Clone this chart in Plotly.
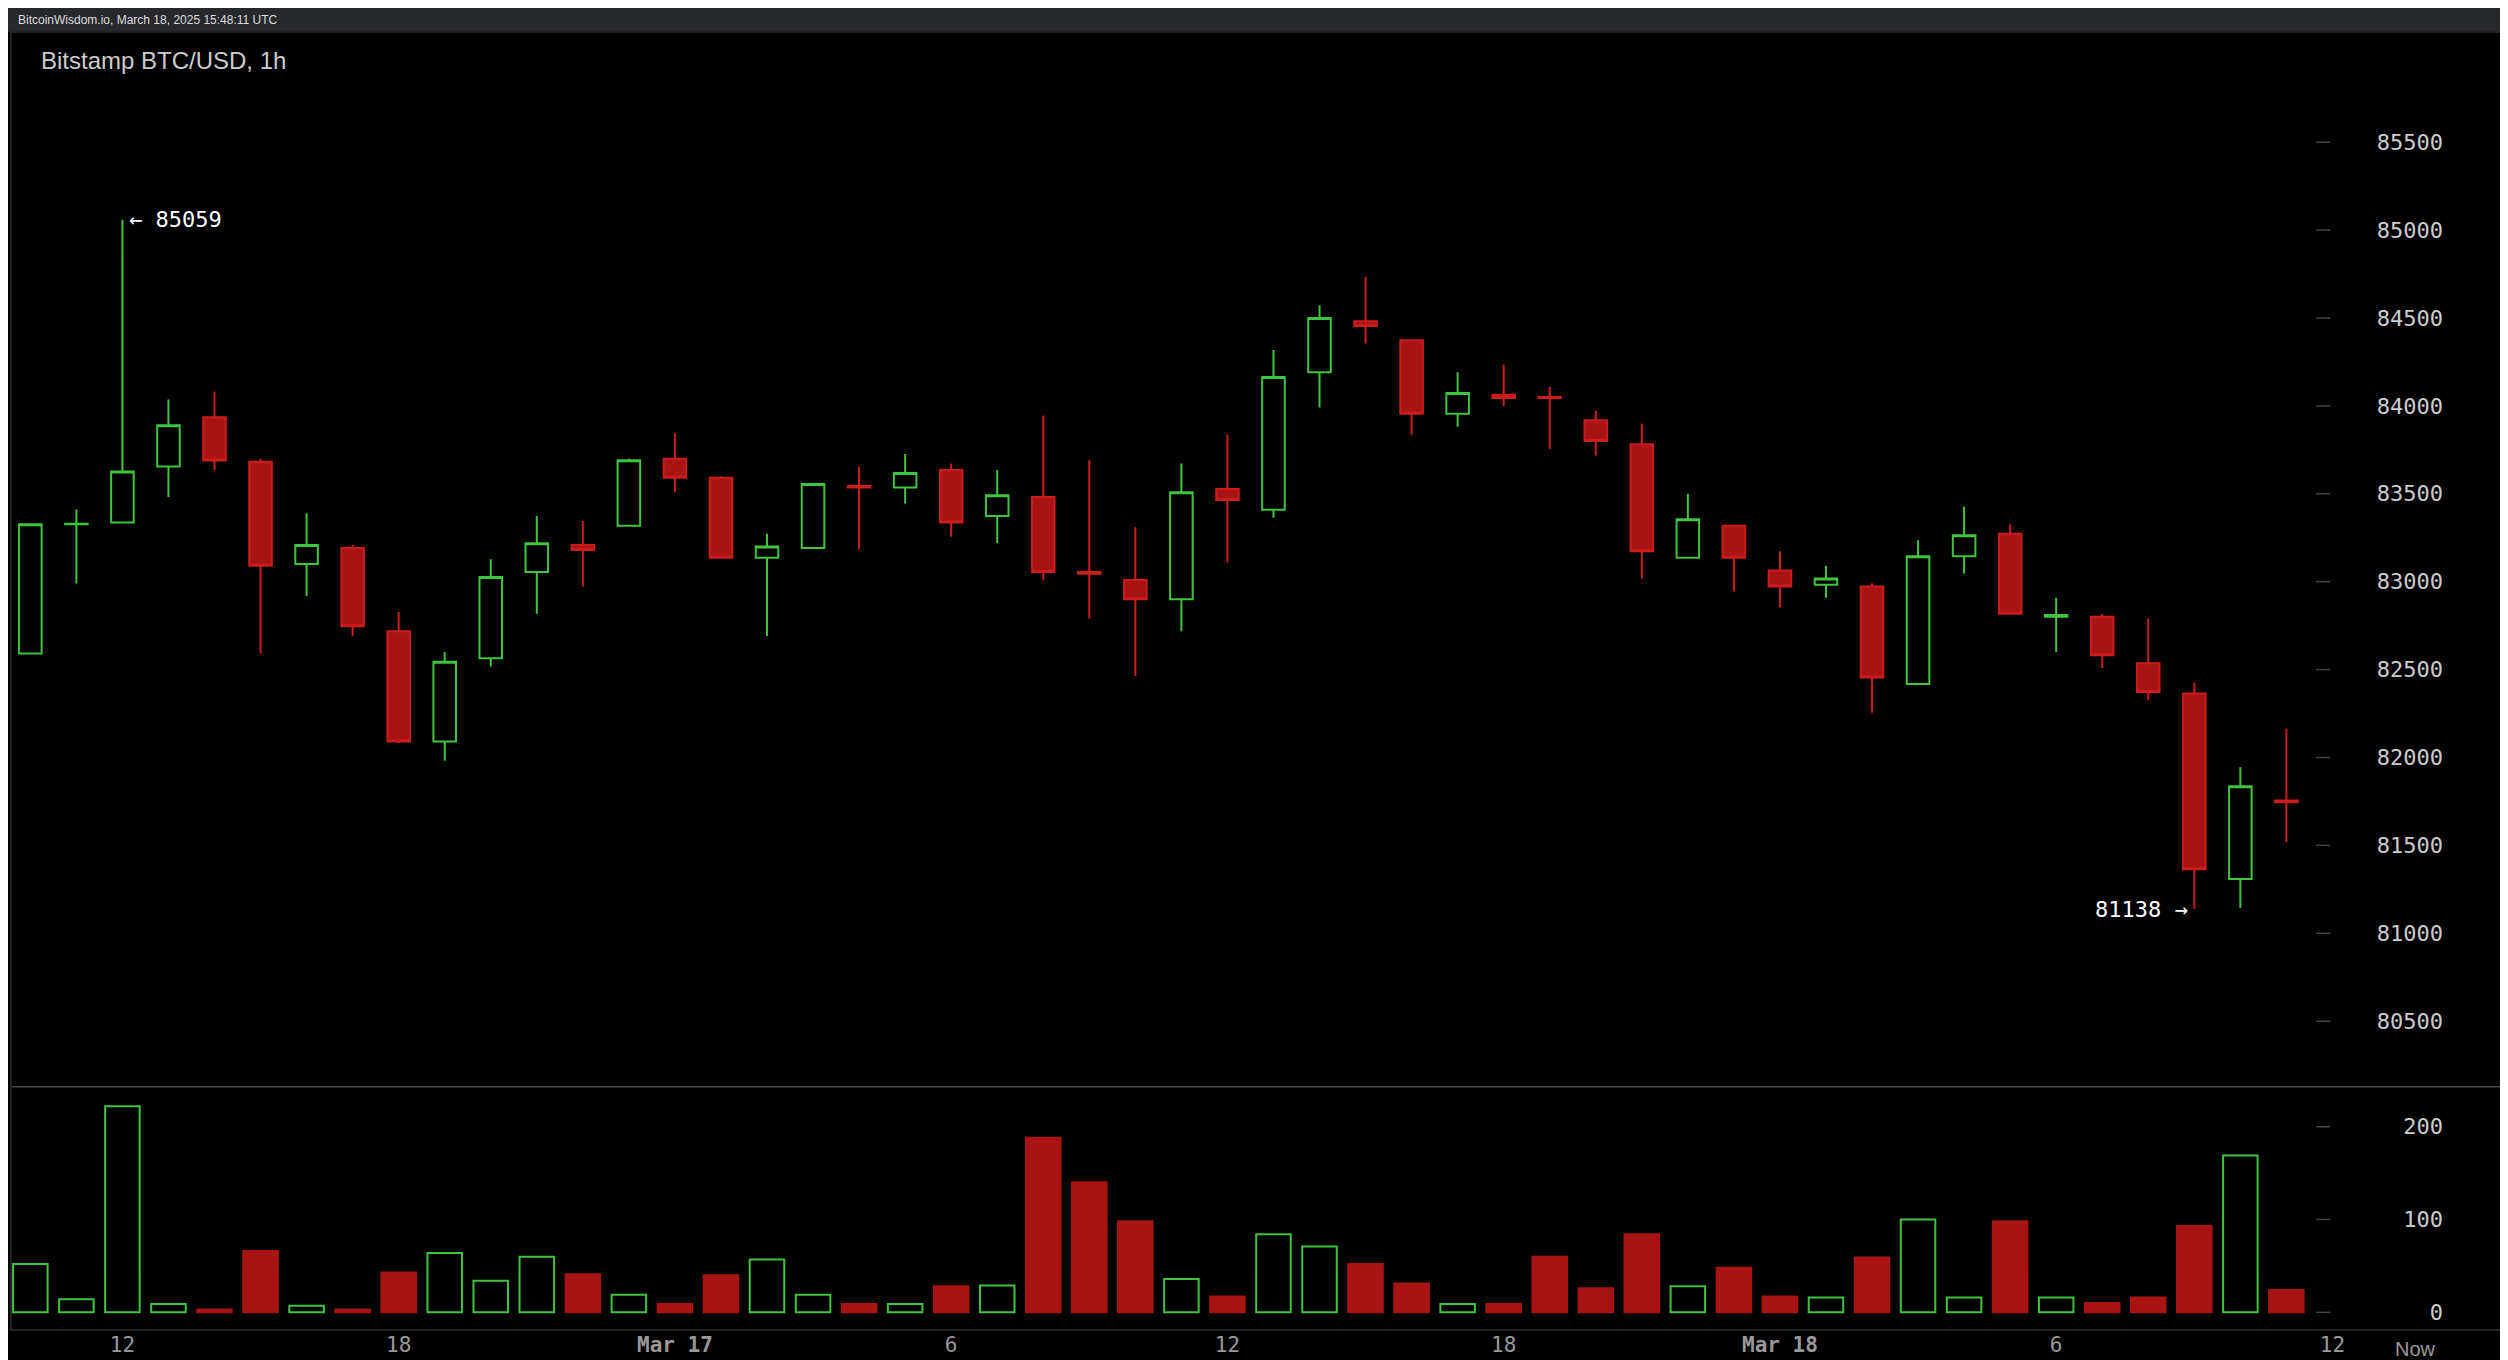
import plotly.graph_objects as go

# hourly candles, Mar 16 10:00 -> Mar 18 11:00 (UTC)
opens = [82591, 83327, 83336, 83655, 83936, 83682, 83100, 83191, 82718, 82091,
         82564, 83055, 83209, 83318, 83700, 83591, 83136, 83191, 83545, 83536,
         83636, 83373, 83482, 83055, 83009, 82900, 83527, 83409, 84191, 84482,
         84373, 83955, 84064, 84050, 83918, 83782, 83136, 83318, 83064, 82982,
         82973, 82418, 83145, 83273, 82800, 82800, 82536, 82364, 81309, 81755]
highs = [83327, 83410, 85059, 84036, 84082, 83700, 83390, 83210, 82827, 82600,
         83127, 83373, 83345, 83700, 83845, 83600, 83273, 83555, 83655, 83727,
         83673, 83636, 83945, 83691, 83309, 83673, 83836, 84318, 84573, 84736,
         84373, 84191, 84236, 84109, 83973, 83900, 83500, 83318, 83173, 83091,
         82991, 83236, 83427, 83327, 82909, 82818, 82791, 82427, 81945, 82164]
lows = [82591, 82990, 83336, 83482, 83636, 82591, 82918, 82690, 82082, 81982,
        82518, 82818, 82973, 83318, 83509, 83136, 82691, 83191, 83182, 83445,
        83255, 83218, 83009, 82791, 82464, 82718, 83109, 83364, 83991, 84355,
        83836, 83882, 84000, 83755, 83718, 83018, 83136, 82945, 82855, 82909,
        82255, 82418, 83045, 82818, 82600, 82509, 82327, 81138, 81145, 81518]
closes = [83327, 83330, 83627, 83890, 83690, 83091, 83209, 82746, 82091, 82545,
          83027, 83218, 83180, 83691, 83591, 83136, 83200, 83555, 83536, 83618,
          83336, 83491, 83055, 83045, 82900, 83509, 83464, 84164, 84500, 84455,
          83955, 84073, 84045, 84045, 83800, 83173, 83355, 83136, 82973, 83018,
          82455, 83145, 83264, 82818, 82810, 82582, 82373, 81364, 81836, 81745]
volumes = [52, 14, 222, 9, 3, 66, 7, 3, 43, 64, 34, 60, 41, 19, 9, 40, 57, 19, 9, 9,
           28, 29, 188, 140, 98, 36, 17, 84, 71, 52, 31, 9, 9, 60, 26, 84, 28, 48, 17, 16,
           59, 100, 16, 98, 16, 10, 16, 93, 169, 24]

hours = list(range(len(opens)))
x_tick_pos = [2, 8, 14, 20, 26, 32, 38, 44, 50]
x_tick_text = ["12", "18", "<b>Mar 17</b>", "6", "12", "18", "<b>Mar 18</b>", "6", "12"]
now_pos = 51.8
price_ticks = [80500, 81000, 81500, 82000, 82500, 83000, 83500, 84000, 84500, 85000, 85500]
vol_ticks = [0, 100, 200]

GREEN = "#3ec43e"
RED = "#cc1c1c"
RED_FILL = "#a81414"
MONO = "DejaVu Sans Mono"

fig = go.Figure()

fig.add_trace(go.Candlestick(
    x=hours, open=opens, high=highs, low=lows, close=closes,
    increasing=dict(line=dict(color=GREEN, width=2), fillcolor="#000000"),
    decreasing=dict(line=dict(color=RED, width=2), fillcolor=RED_FILL),
    whiskerwidth=0, showlegend=False, hoverinfo="skip",
    xaxis="x", yaxis="y",
))

bar_fill = ["#000000" if c >= o else RED_FILL for o, c in zip(opens, closes)]
bar_line = [GREEN if c >= o else RED_FILL for o, c in zip(opens, closes)]
fig.add_trace(go.Bar(
    x=hours, y=volumes, width=0.75,
    marker=dict(color=bar_fill, line=dict(color=bar_line, width=2)),
    showlegend=False, hoverinfo="skip", xaxis="x", yaxis="y2",
))

# little dash marks beside the price/volume labels
for ticks, ax in [(price_ticks, "y"), (vol_ticks, "y2")]:
    fig.add_trace(go.Scatter(
        x=[49.8] * len(ticks), y=ticks, mode="markers",
        marker=dict(symbol="line-ew", size=10, line=dict(color="#444444", width=1.5)),
        showlegend=False, hoverinfo="skip", xaxis="x", yaxis=ax,
    ))

fig.update_layout(
    width=2508, height=1360,
    paper_bgcolor="#000000", plot_bgcolor="#000000",
    margin=dict(l=3, r=4, t=24, b=38),
    font=dict(family=MONO, color="#cccccc"),
    xaxis=dict(
        range=[-0.42, 53.9], tickvals=x_tick_pos, ticktext=x_tick_text,
        showgrid=False, zeroline=False, rangeslider=dict(visible=False),
        tickfont=dict(size=21, color="#999999"), ticks="", anchor="y2",
    ),
    yaxis=dict(
        domain=[0.19, 1], range=[80146, 86127], side="right",
        tickvals=price_ticks, tickformat="d", ticklabelposition="inside", ticklabelstandoff=66,
        showgrid=False, zeroline=False, tickfont=dict(size=22, color="#cccccc"),
    ),
    yaxis2=dict(
        domain=[0, 0.186], range=[-19, 241], side="right",
        tickvals=vol_ticks, tickformat="d", ticklabelposition="inside", ticklabelstandoff=66,
        showgrid=False, zeroline=False, tickfont=dict(size=22, color="#cccccc"),
    ),
    shapes=[
        dict(type="rect", xref="paper", yref="paper", x0=-0.01, x1=1.01, y0=1.0, y1=1.03,
             fillcolor="#26282c", line=dict(width=0), layer="below"),
        dict(type="line", xref="paper", yref="paper", x0=0, x1=1, y0=0.1875, y1=0.1875,
             line=dict(color="#444444", width=1.5)),
        dict(type="rect", xref="paper", yref="paper", x0=0, x1=1, y0=0, y1=1,
             line=dict(color="#222222", width=2)),
    ],
    annotations=[
        dict(text="BitcoinWisdom.io, March 18, 2025 15:48:11 UTC", xref="paper", yref="paper",
             x=0.002, y=1.009, xanchor="left", yanchor="middle", showarrow=False,
             font=dict(size=12, color="#dddddd", family="Liberation Sans")),
        dict(text="Bitstamp BTC/USD, 1h", xref="paper", yref="paper", x=0.011, y=0.99,
             xanchor="left", yanchor="top", showarrow=False,
             font=dict(size=24, color="#cccccc", family="Liberation Sans")),
        dict(text="Now", x=now_pos, xref="x", yref="paper", y=-0.0045, yanchor="top",
             showarrow=False, font=dict(size=20, color="#999999", family="Liberation Sans")),
        dict(text="← %d" % max(highs), x=highs.index(max(highs)) + 0.1, y=max(highs),
             xanchor="left", yanchor="middle", showarrow=False,
             font=dict(size=22, color="#ffffff")),
        dict(text="%d →" % min(lows), x=lows.index(min(lows)) - 0.1, y=min(lows),
             xanchor="right", yanchor="middle", showarrow=False,
             font=dict(size=22, color="#ffffff")),
    ],
)

fig.write_html("out.html")
